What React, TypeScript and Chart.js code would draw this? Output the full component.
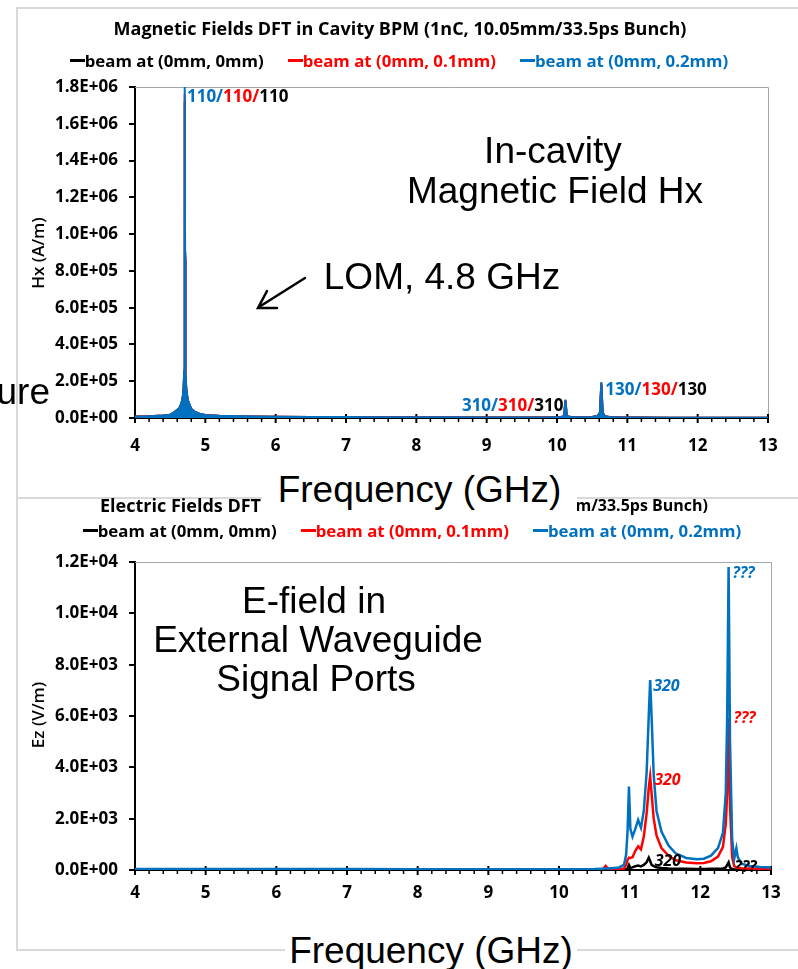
import React, { useEffect, useRef } from "react";
import { Chart, registerables } from "chart.js";

Chart.register(...registerables);

// ---------- data ----------
const SERIES_NAMES = ["beam at (0mm, 0mm)", "beam at (0mm, 0.1mm)", "beam at (0mm, 0.2mm)"];
const SERIES_COLORS = ["#000000", "#FF0000", "#0070C0"];

const TOP_TITLE = "Magnetic Fields DFT in Cavity BPM (1nC, 10.05mm/33.5ps Bunch)";
const BOTTOM_TITLE_LEFT = "Electric Fields DFT";
const BOTTOM_TITLE_RIGHT = "mm/33.5ps Bunch)";
const X_TITLE = "Frequency (GHz)";
const HX_AXIS_TITLE = "Hx (A/m)";
const EZ_AXIS_TITLE = "Ez (V/m)";

const X_MIN = 4;
const X_MAX = 13;
const X_STEP = 1;
const HX_MAX = 1.8e6;
const HX_STEP = 2e5;
const EZ_MAX = 1.2e4;
const EZ_STEP = 2e3;

// Magnetic field spectrum (GHz, A/m)
const FREQ_H = [4.0, 4.2, 4.4, 4.5, 4.55, 4.6, 4.63, 4.66, 4.68, 4.69, 4.70, 4.703, 4.706, 4.708, 4.71, 4.712, 4.715, 4.72, 4.73, 4.75, 4.8, 4.85, 4.92, 5.0, 5.2, 5.5, 6.0, 6.5, 7.0, 7.5, 8.0, 8.5, 9.0, 9.5, 9.9, 10.05, 10.1, 10.12, 10.14, 10.2, 10.35, 10.5, 10.58, 10.61, 10.63, 10.65, 10.68, 10.75, 10.9, 11.2, 11.6, 12.0, 12.5, 13.0];
const HX_BLACK = [7.6e3, 9.6e3, 1.34e4, 1.72e4, 2.85e4, 4.3e4, 5.3e4, 7.6e4, 1.15e5, 1.52e5, 2.45e5, 4.3e5, 8.4e5, 8.6e5, 1.72e6, 8.6e5, 3.8e5, 2.3e5, 1.52e5, 9.6e4, 4.8e4, 3.3e4, 2.2e4, 1.62e4, 1.15e4, 8.6e3, 6.6e3, 5.7e3, 4.8e3, 4.3e3, 3.8e3, 3.3e3, 2.85e3, 2.85e3, 3.3e3, 4.8e3, 9.6e3, 9.4e4, 9.6e3, 4.8e3, 3.8e3, 5.7e3, 1.15e4, 2.85e4, 1.85e5, 2.85e4, 9.6e3, 4.8e3, 2.85e3, 2.4e3, 1.9e3, 1.9e3, 1.4e3, 1.4e3];
const HX_RED = [7.8e3, 9.8e3, 1.37e4, 1.76e4, 2.9e4, 4.4e4, 5.4e4, 7.8e4, 1.17e5, 1.56e5, 2.5e5, 4.4e5, 8.6e5, 8.8e5, 1.76e6, 8.8e5, 3.9e5, 2.35e5, 1.56e5, 9.8e4, 4.9e4, 3.4e4, 2.25e4, 1.66e4, 1.17e4, 8.8e3, 6.8e3, 5.8e3, 4.9e3, 4.4e3, 3.9e3, 3.4e3, 2.9e3, 2.9e3, 3.4e3, 4.9e3, 9.8e3, 9.7e4, 9.8e3, 4.9e3, 3.9e3, 5.8e3, 1.17e4, 2.9e4, 1.9e5, 2.9e4, 9.8e3, 4.9e3, 2.9e3, 2.4e3, 1.9e3, 1.9e3, 1.4e3, 1.4e3];
const HX_BLUE = [8e3, 1.0e4, 1.4e4, 1.8e4, 3.0e4, 4.5e4, 5.5e4, 8.0e4, 1.2e5, 1.6e5, 2.6e5, 4.5e5, 8.8e5, 9.0e5, 1.8e6, 9.0e5, 4.0e5, 2.4e5, 1.6e5, 1.0e5, 5.0e4, 3.5e4, 2.3e4, 1.7e4, 1.2e4, 9.0e3, 7.0e3, 6.0e3, 5.0e3, 4.5e3, 4.0e3, 3.5e3, 3.0e3, 3.0e3, 3.5e3, 5.0e3, 1.0e4, 1.0e5, 1.0e4, 5.0e3, 4.0e3, 6.0e3, 1.2e4, 3.0e4, 1.95e5, 3.0e4, 1.0e4, 5.0e3, 3.0e3, 2.5e3, 2.0e3, 2.0e3, 1.5e3, 1.5e3];

// Electric field spectrum (GHz, V/m)
const FREQ_E = [4.0, 5.0, 6.0, 7.0, 8.0, 9.0, 10.0, 10.5, 10.62, 10.66, 10.7, 10.85, 10.92, 10.95, 10.97, 10.99, 11.01, 11.04, 11.08, 11.12, 11.16, 11.2, 11.24, 11.27, 11.29, 11.31, 11.34, 11.38, 11.45, 11.55, 11.65, 11.8, 11.95, 12.05, 12.15, 12.25, 12.32, 12.36, 12.38, 12.40, 12.42, 12.45, 12.48, 12.51, 12.53, 12.58, 12.7, 12.85, 13.0];
const EZ_BLACK = [5, 5, 5, 5, 5, 5, 5, 5, 5, 5, 5, 5, 10, 30, 60, 200, 80, 100, 150, 170, 140, 200, 300, 480, 350, 200, 150, 110, 80, 60, 50, 45, 40, 40, 45, 50, 60, 100, 200, 300, 100, 40, 20, 15, 15, 10, 10, 10, 10];
const EZ_RED = [10, 10, 10, 10, 10, 10, 10, 15, 30, 160, 25, 20, 60, 200, 400, 480, 470, 500, 750, 920, 800, 1300, 2200, 3200, 3650, 3000, 2000, 1350, 850, 550, 380, 290, 260, 270, 340, 520, 900, 1800, 3000, 5900, 2500, 500, 150, 100, 90, 70, 60, 50, 40];
const EZ_BLUE = [40, 40, 35, 35, 30, 30, 30, 40, 50, 55, 60, 100, 200, 600, 1500, 3250, 1600, 1300, 1600, 1950, 1650, 2300, 3800, 6000, 7400, 6000, 3700, 2300, 1500, 950, 650, 470, 420, 440, 560, 850, 1450, 3000, 6000, 11800, 5000, 1200, 450, 850, 500, 250, 160, 120, 100];

// Mode labels
const HX_MODES = ["110", "310", "130"];
const HX_MODE_RANGES = [[4.6, 4.8], [10.0, 10.3], [10.5, 10.8]];
const EZ_MODES = ["320", "???"];
const EZ_MODE_RANGES = [[11.2, 11.4], [12.3, 12.5]];

// ---------- helpers ----------
function fmtSci(v: number): string {
  if (v === 0) return "0.0E+00";
  let e = Math.floor(Math.log10(Math.abs(v)) + 1e-9);
  let m = v / Math.pow(10, e);
  if (Math.abs(m) >= 9.95) { m /= 10; e += 1; }
  const sign = e < 0 ? "-" : "+";
  return m.toFixed(1) + "E" + sign + String(Math.abs(e)).padStart(2, "0");
}

function peakOf(xs: number[], ys: number[], lo: number, hi: number) {
  let bi = -1;
  for (let i = 0; i < xs.length; i++) {
    if (xs[i] >= lo && xs[i] <= hi && (bi < 0 || ys[i] > ys[bi])) bi = i;
  }
  return { x: xs[bi], y: ys[bi] };
}

type PeakLabel = {
  x: number; y: number; parts: string[]; colors: string[];
  align: "left" | "right"; dx: number; dy: number; font: string;
};

function makeLabelPlugin(items: PeakLabel[]) {
  return {
    id: "peakLabels",
    afterDatasetsDraw(chart: any) {
      const { ctx, scales } = chart;
      ctx.save();
      ctx.textBaseline = "middle";
      ctx.textAlign = "left";
      for (const it of items) {
        const px = scales.x.getPixelForValue(it.x);
        const py = scales.y.getPixelForValue(it.y);
        ctx.font = it.font;
        const widths = it.parts.map((p) => ctx.measureText(p).width);
        const total = widths.reduce((a, b) => a + b, 0);
        let x = it.align === "left" ? px + it.dx : px - it.dx - total;
        const y = py + it.dy;
        it.parts.forEach((p, i) => {
          ctx.fillStyle = it.colors[i];
          ctx.fillText(p, x, y);
          x += widths[i];
        });
      }
      ctx.restore();
    },
  };
}

const frameTicksPlugin = {
  id: "frameTicks",
  beforeDatasetsDraw(chart: any) {
    const { ctx, chartArea: a, scales } = chart;
    const xs = scales.x;
    const ys = scales.y;
    ctx.save();
    ctx.strokeStyle = "#a6a6a6";
    ctx.lineWidth = 1;
    ctx.beginPath();
    ctx.moveTo(a.left, a.top + 0.5);
    ctx.lineTo(a.right + 0.5, a.top + 0.5);
    ctx.lineTo(a.right + 0.5, a.bottom);
    ctx.stroke();
    ctx.strokeStyle = "#000";
    const tv = xs.ticks.map((t: any) => t.value);
    ctx.lineWidth = 2;
    tv.forEach((v: number) => {
      const p = xs.getPixelForValue(v);
      ctx.beginPath();
      ctx.moveTo(p, a.bottom - 4);
      ctx.lineTo(p, a.bottom + 5);
      ctx.stroke();
    });
    ctx.lineWidth = 1.5;
    for (let i = 0; i < tv.length - 1; i++) {
      const step = (tv[i + 1] - tv[i]) / 5;
      for (let k = 1; k < 5; k++) {
        const p = xs.getPixelForValue(tv[i] + k * step);
        ctx.beginPath();
        ctx.moveTo(p, a.bottom);
        ctx.lineTo(p, a.bottom + 4);
        ctx.stroke();
      }
    }
    ctx.lineWidth = 2;
    ys.ticks.forEach((t: any) => {
      const p = Math.round(ys.getPixelForValue(t.value));
      ctx.beginPath();
      ctx.moveTo(a.left - 6, p);
      ctx.lineTo(a.left, p);
      ctx.stroke();
    });
    ctx.restore();
  },
};

const TICK_FONT = { family: "'Open Sans', sans-serif", size: 17, weight: "bold" as const };

function makeConfig(opts: {
  xs: number[]; series: number[][]; yMax: number; yStep: number;
  padTop: number; padRight: number; xHeight: number; xPad: number; lineWidth: number;
  fillTop: boolean; labels: PeakLabel[];
}) {
  const datasets = opts.series.map((ys, i) => ({
    label: SERIES_NAMES[i],
    data: opts.xs.map((x, j) => ({ x, y: ys[j] })),
    borderColor: SERIES_COLORS[i],
    backgroundColor: SERIES_COLORS[i],
    borderWidth: opts.lineWidth,
    pointRadius: 0,
    tension: 0,
    fill: opts.fillTop && i === 2 ? "origin" : false,
    order: 2 - i,
  }));
  return {
    type: "line" as const,
    data: { datasets },
    plugins: [frameTicksPlugin, makeLabelPlugin(opts.labels)],
    options: {
      responsive: false,
      maintainAspectRatio: false,
      animation: false as const,
      layout: { padding: { left: 0, right: opts.padRight, top: opts.padTop, bottom: 0 } },
      plugins: { legend: { display: false }, title: { display: false }, tooltip: { enabled: false } },
      scales: {
        x: {
          type: "linear" as const,
          min: X_MIN,
          max: X_MAX,
          ticks: { stepSize: X_STEP, padding: opts.xPad, font: TICK_FONT, color: "#000", maxRotation: 0, autoSkip: false },
          grid: { display: false, drawTicks: false },
          border: { display: true, color: "#000", width: 2 },
          afterFit: (s: any) => { s.height = opts.xHeight; },
        },
        y: {
          min: 0,
          max: opts.yMax,
          ticks: { stepSize: opts.yStep, padding: 17, font: TICK_FONT, color: "#000", callback: (v: any) => fmtSci(Number(v)) },
          grid: { display: false, drawTicks: false },
          border: { display: true, color: "#000", width: 2 },
          afterFit: (s: any) => { s.width = 135; },
        },
      },
    },
  };
}

const BIG_FONT = "'Liberation Sans', Arial, sans-serif";

function Txt(props: { x: number; y: number; size?: number; rotate?: number; children: React.ReactNode; style?: React.CSSProperties }) {
  return (
    <div style={{
      position: "absolute", left: props.x, top: props.y,
      transform: `translate(-50%, -50%)${props.rotate ? ` rotate(${props.rotate}deg)` : ""}`,
      whiteSpace: "nowrap", lineHeight: 1, fontFamily: BIG_FONT, fontSize: props.size ?? 37, color: "#000",
      ...props.style,
    }}>{props.children}</div>
  );
}

function Legend(props: { cx: number; cy: number }) {
  return (
    <div style={{
      position: "absolute", left: props.cx - 400, top: props.cy - 11, width: 800, height: 22,
      display: "flex", justifyContent: "center", alignItems: "center", gap: 24,
      fontFamily: "'Open Sans', sans-serif", fontWeight: 700, fontSize: 16.8, whiteSpace: "nowrap",
    }}>
      {SERIES_NAMES.map((n, i) => (
        <span key={n} style={{ display: "flex", alignItems: "center", color: SERIES_COLORS[i] }}>
          <span style={{ display: "inline-block", width: 15, height: 3, background: SERIES_COLORS[i] }} />
          {n}
        </span>
      ))}
    </div>
  );
}

export default function App() {
  const topRef = useRef<HTMLCanvasElement>(null);
  const botRef = useRef<HTMLCanvasElement>(null);

  useEffect(() => {
    const labelFont = "bold 17px 'Open Sans', sans-serif";
    const hxAnchors = HX_MODE_RANGES.map((r) => peakOf(FREQ_H, HX_BLUE, r[0], r[1]));
    const hxPlace = [
      { align: "left" as const, dx: 2, dy: 10 },
      { align: "right" as const, dx: 2, dy: 7 },
      { align: "left" as const, dx: 4, dy: 8 },
    ];
    const hxLabels: PeakLabel[] = hxAnchors.map((p, i) => ({
      x: p.x, y: p.y,
      parts: [HX_MODES[i] + "/", HX_MODES[i] + "/", HX_MODES[i]],
      colors: [SERIES_COLORS[2], SERIES_COLORS[1], SERIES_COLORS[0]],
      font: labelFont, ...hxPlace[i],
    }));

    const ezFont = "italic bold 16px 'Open Sans', sans-serif";
    const ezSeries = [EZ_BLACK, EZ_RED, EZ_BLUE];
    const ezPlace = [
      [{ dx: 6, dy: 4 }, { dx: 6, dy: 5 }],
      [{ dx: 4, dy: 4 }, { dx: 5, dy: 0 }],
      [{ dx: 3, dy: 6 }, { dx: 4, dy: 6 }],
    ];
    const ezLabels: PeakLabel[] = [];
    ezSeries.forEach((ys, s) => {
      EZ_MODE_RANGES.forEach((r, m) => {
        const p = peakOf(FREQ_E, ys, r[0], r[1]);
        ezLabels.push({
          x: p.x, y: p.y, parts: [EZ_MODES[m]], colors: [SERIES_COLORS[s]],
          align: "left", font: ezFont, ...ezPlace[s][m],
        });
      });
    });

    const c1 = new Chart(topRef.current!, makeConfig({
      xs: FREQ_H, series: [HX_BLACK, HX_RED, HX_BLUE], yMax: HX_MAX, yStep: HX_STEP,
      padTop: 87, padRight: 30, xHeight: 52, xPad: 18, lineWidth: 2, fillTop: true, labels: hxLabels,
    }) as any);
    const c2 = new Chart(botRef.current!, makeConfig({
      xs: FREQ_E, series: [EZ_BLACK, EZ_RED, EZ_BLUE], yMax: EZ_MAX, yStep: EZ_STEP,
      padTop: 72, padRight: 27, xHeight: 60, xPad: 13, lineWidth: 2.5, fillTop: false, labels: ezLabels,
    }) as any);
    return () => { c1.destroy(); c2.destroy(); };
  }, []);

  const frame = "2px solid #d9d9d9";
  const titleFont: React.CSSProperties = { fontFamily: "'Open Sans', sans-serif", fontWeight: 700, fontSize: 18, whiteSpace: "nowrap", lineHeight: "22px" };
  const axisTitle: React.CSSProperties = { fontFamily: "'Open Sans', sans-serif", fontWeight: 600 };
  return (
    <div style={{ position: "absolute", left: 0, top: 0, width: 798, height: 969, background: "#fff", overflow: "hidden" }}>
      {/* slide frames */}
      <div style={{ position: "absolute", left: 16, top: 7, width: 800, height: 490, borderLeft: frame, borderTop: frame }} />
      <div style={{ position: "absolute", left: 16, top: 497, width: 800, height: 450, borderLeft: frame, borderTop: frame, borderBottom: frame }} />

      <canvas ref={topRef} width={798} height={470} style={{ position: "absolute", left: 0, top: 0, width: 798, height: 470 }} />
      <canvas ref={botRef} width={798} height={440} style={{ position: "absolute", left: 0, top: 490, width: 798, height: 440 }} />

      {/* axis titles */}
      <Txt x={37} y={253} size={17} rotate={-90} style={axisTitle}>{HX_AXIS_TITLE}</Txt>
      <Txt x={37} y={715} size={17} rotate={-90} style={axisTitle}>{EZ_AXIS_TITLE}</Txt>

      {/* chart titles and legends */}
      <Txt x={400} y={28} style={titleFont}>{TOP_TITLE}</Txt>
      <Legend cx={399} cy={60} />
      <div style={{ position: "absolute", left: 100, top: 505 - 11, ...titleFont }}>{BOTTOM_TITLE_LEFT}</div>
      <div style={{ position: "absolute", right: 798 - 708, top: 505 - 11, ...titleFont, fontSize: 16 }}>{BOTTOM_TITLE_RIGHT}</div>
      <Legend cx={412} cy={530} />

      {/* slide annotations */}
      <Txt x={553} y={150}>In-cavity</Txt>
      <Txt x={555} y={190}>Magnetic Field Hx</Txt>
      <Txt x={442} y={276}>LOM, 4.8 GHz</Txt>
      <div style={{ position: "absolute", right: 798 - 50, top: 392 - 19, lineHeight: "38px", fontFamily: BIG_FONT, fontSize: 37, whiteSpace: "nowrap" }}>ure</div>
      <svg width={798} height={969} style={{ position: "absolute", left: 0, top: 0, pointerEvents: "none" }}>
        <g stroke="#000" strokeWidth={2.5} fill="none" strokeLinecap="round">
          <line x1={305} y1={278} x2={259} y2={307} />
          <polyline points="267,291 258,308 277,308" />
        </g>
      </svg>
      <Txt x={314} y={600}>E-field in</Txt>
      <Txt x={318} y={639}>External Waveguide</Txt>
      <Txt x={316} y={678}>Signal Ports</Txt>

      <div style={{ position: "absolute", left: 262, top: 463, width: 315, height: 52, background: "#fff", display: "flex", alignItems: "center", justifyContent: "center", fontFamily: BIG_FONT, fontSize: 37, lineHeight: 1, whiteSpace: "nowrap" }}>{X_TITLE}</div>
      <div style={{ position: "absolute", left: 285, top: 925, width: 292, height: 50, background: "#fff", display: "flex", alignItems: "center", justifyContent: "center", fontFamily: BIG_FONT, fontSize: 37, lineHeight: 1, whiteSpace: "nowrap" }}>{X_TITLE}</div>
    </div>
  );
}
